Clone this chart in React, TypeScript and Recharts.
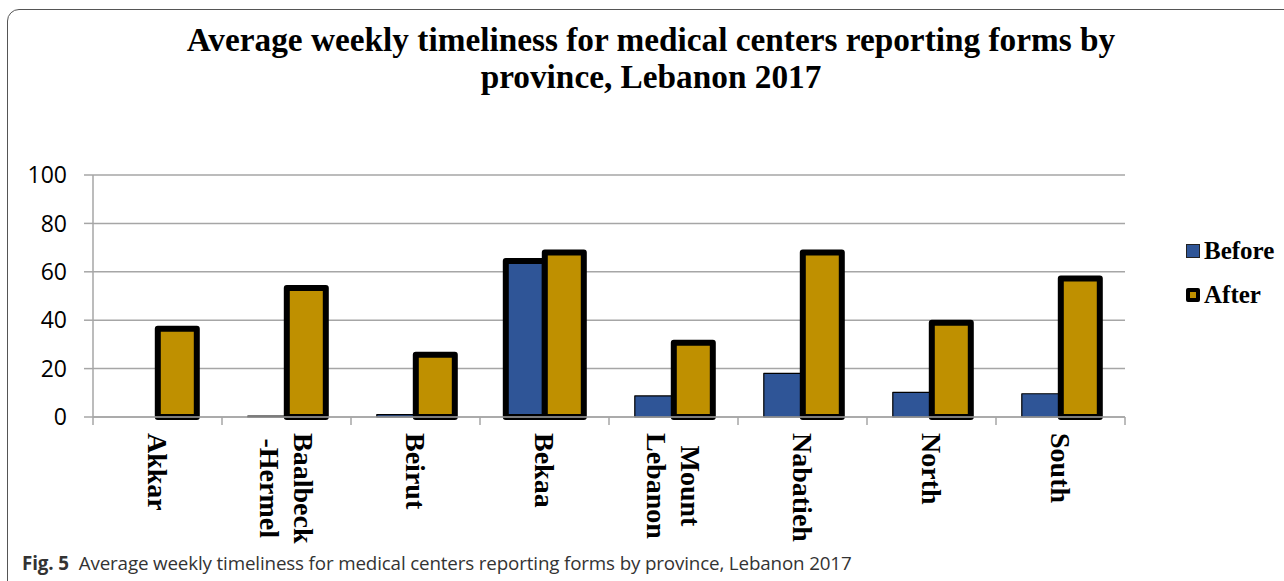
import React from "react";
import { BarChart, Bar, XAxis, YAxis, CartesianGrid, Cell } from "recharts";

const provinces = [
  "Akkar",
  "Baalbeck\n-Hermel",
  "Beirut",
  "Bekaa",
  "Mount\nLebanon",
  "Nabatieh",
  "North",
  "South",
];
const beforeValues = [0, 0.4, 1, 64.5, 8.7, 18, 10.2, 9.6];
const afterValues = [36.5, 53.3, 25.7, 68, 30.7, 68, 38.9, 57.2];
const yTicks = [0, 20, 40, 60, 80, 100];

const BLUE = "#2F5597";
const GOLD = "#BF9000";
const GRID = "#a6a6a6";
const LABEL_FONT = "bold 28px 'Liberation Serif'";

const data = provinces.map((p, i) => ({
  province: p,
  before: beforeValues[i],
  after: afterValues[i],
}));

function textWidth(s: string) {
  const c = document.createElement("canvas").getContext("2d");
  if (!c) return s.length * 14;
  c.font = LABEL_FONT;
  return c.measureText(s).width;
}

function ProvinceTick(props: any) {
  const { x, y, payload, index } = props;
  const half = payload && payload.offset ? payload.offset : 64.5;
  const lines = String(payload.value).split("\n");
  const top = y + 8;
  const lh = 34;
  let anchor = "start";
  let tx = top;
  if (lines.length > 1) {
    anchor = "middle";
    tx = top + Math.max(...lines.map(textWidth)) / 2;
  }
  return (
    <g>
      <line x1={x - half} x2={x - half} y1={y - 8} y2={y} stroke={GRID} strokeWidth={1.5} />
      {index === provinces.length - 1 && (
        <line x1={x + half} x2={x + half} y1={y - 8} y2={y} stroke={GRID} strokeWidth={1.5} />
      )}
      <text
        transform={`translate(${x},${tx}) rotate(90)`}
        textAnchor={anchor}
        dominantBaseline="central"
        fontFamily="'Liberation Serif'"
        fontWeight="bold"
        fontSize={28}
        fill="#000"
      >
        {lines.map((l, i) => (
          <tspan key={i} x={0} y={(i - (lines.length - 1) / 2) * lh}>
            {l}
          </tspan>
        ))}
      </text>
    </g>
  );
}

export default function App() {
  return (
    <div
      style={{
        position: "absolute",
        left: 0,
        top: 0,
        width: 1284,
        height: 581,
        overflow: "hidden",
        background: "#fff",
      }}
    >
      <div
        style={{
          position: "absolute",
          left: 7,
          top: 9,
          width: 1320,
          height: 590,
          border: "1.5px solid #555",
          borderRadius: 12,
          boxSizing: "border-box",
        }}
      />
      <div
        style={{
          position: "absolute",
          left: 0,
          top: 21,
          width: 1302,
          textAlign: "center",
          fontFamily: "'Liberation Serif'",
          fontWeight: "bold",
          fontSize: 33.3,
          lineHeight: "37px",
          color: "#000",
        }}
      >
        Average weekly timeliness for medical centers reporting forms by
        <br />
        province, Lebanon 2017
      </div>

      <BarChart
        width={1284}
        height={581}
        data={data}
        margin={{ top: 175, right: 159, left: 23, bottom: 14 }}
        barCategoryGap="20%"
        barGap={0}
      >
        <CartesianGrid vertical={false} stroke={GRID} strokeWidth={1.5} />
        <YAxis
          width={70}
          domain={[0, 100]}
          ticks={yTicks}
          interval={0}
          tickSize={9}
          tickMargin={17}
          axisLine={{ stroke: GRID, strokeWidth: 1.5 }}
          tickLine={{ stroke: GRID, strokeWidth: 1.5 }}
          tick={{ fill: "#000", fontSize: 23, fontFamily: "'Open Sans'" }}
        />
        <XAxis
          dataKey="province"
          height={150}
          interval={0}
          tickLine={false}
          tickSize={8}
          tickMargin={0}
          axisLine={{ stroke: GRID, strokeWidth: 1.5 }}
          tick={<ProvinceTick />}
        />
        <Bar dataKey="before" fill={BLUE} stroke="#000" strokeWidth={1} isAnimationActive={false}>
          {data.map((d, i) => (
            <Cell
              key={i}
              strokeWidth={d.province === "Bekaa" ? 6 : 1.2}
              strokeLinejoin="round"
            />
          ))}
        </Bar>
        <Bar
          dataKey="after"
          fill={GOLD}
          stroke="#000"
          strokeWidth={6}
          strokeLinejoin="round"
          isAnimationActive={false}
        />
      </BarChart>

      <div
        style={{
          position: "absolute",
          left: 1186,
          top: 229,
          fontFamily: "'Liberation Serif'",
          fontWeight: "bold",
          fontSize: 25,
          lineHeight: "44px",
          color: "#000",
        }}
      >
        {[
          { name: "Before", fill: BLUE, border: "1px solid #222", size: 12 },
          { name: "After", fill: GOLD, border: "4px solid #000", size: 6 },
        ].map((s) => (
          <div key={s.name} style={{ display: "flex", alignItems: "center" }}>
            <span
              style={{
                display: "inline-block",
                width: s.size,
                height: s.size,
                background: s.fill,
                border: s.border,
                borderRadius: s.size < 10 ? 2 : 0,
                marginRight: 4,
              }}
            />
            {s.name}
          </div>
        ))}
      </div>

      <div
        style={{
          position: "absolute",
          left: 22,
          top: 550,
          fontFamily: "'Open Sans'",
          fontSize: 18.8,
          lineHeight: "26px",
          color: "#333",
          whiteSpace: "nowrap",
          letterSpacing: -0.15,
        }}
      >
        <b>Fig. 5</b>
        <span style={{ marginLeft: 10 }}>
          Average weekly timeliness for medical centers reporting forms by province, Lebanon 2017
        </span>
      </div>
    </div>
  );
}
